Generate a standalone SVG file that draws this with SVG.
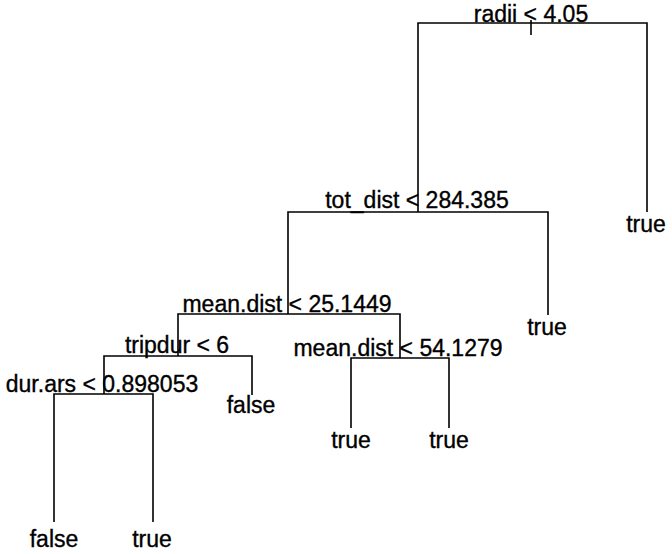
<svg xmlns="http://www.w3.org/2000/svg" width="672" height="554" viewBox="0 0 672 554">
<style>
.e{stroke:#000;stroke-width:1.6;fill:none}
text{font-family:"Liberation Sans",Arial,sans-serif;font-size:23px;fill:#000;stroke:#000;stroke-width:0.35;text-anchor:middle}
</style>
<rect width="672" height="554" fill="#fff"/>
<g id="connectors">
<path class="e" d="M531,20V35"/>
<path class="e" d="M418,212V23H647V212"/>
<path class="e" d="M288,314V212H548V315"/>
<path class="e" d="M178,356V314H400V358"/>
<path class="e" d="M104,394V356H252V395"/>
<path class="e" d="M54,522V394H153V522"/>
<path class="e" d="M351,428V358H449V428"/>
</g>
<g id="n_radii"><text x="531" y="22">radii &lt; 4.05</text></g>
<g id="n_tot_dist"><text x="417" y="208">tot_dist &lt; 284.385</text></g>
<g id="n_true_r"><text x="646" y="232">true</text></g>
<g id="n_mean1"><text x="287" y="312">mean.dist &lt; 25.1449</text></g>
<g id="n_true_t"><text x="547" y="335">true</text></g>
<g id="n_tripdur"><text x="177" y="353">tripdur &lt; 6</text></g>
<g id="n_mean2"><text x="398" y="356">mean.dist &lt; 54.1279</text></g>
<g id="n_durars"><text x="102" y="392">dur.ars &lt; 0.898053</text></g>
<g id="n_false_t"><text x="251" y="413">false</text></g>
<g id="n_true_m1"><text x="351" y="448">true</text></g>
<g id="n_true_m2"><text x="449" y="448">true</text></g>
<g id="n_false_d"><text x="54" y="547">false</text></g>
<g id="n_true_d"><text x="152" y="547">true</text></g>
</svg>
